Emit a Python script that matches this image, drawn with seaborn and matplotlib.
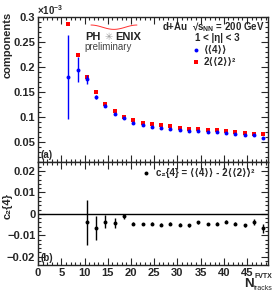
import seaborn as sns
import matplotlib.pyplot as plt
import numpy as np
import pandas as pd
from matplotlib.ticker import MultipleLocator, FuncFormatter

# N_tracks bins (centres)
ntracks = [6.5, 8.5, 10.5, 12.5, 14.5, 16.5, 18.5, 20.5, 22.5, 24.5, 26.5, 28.5,
           30.5, 32.5, 34.5, 36.5, 38.5, 40.5, 42.5, 44.5, 46.5, 48.5]
# <<4>> and 2<<2>>^2, in units of 1e-3
four = [0.181, 0.195, 0.176, 0.141, 0.123, 0.107, 0.099, 0.089, 0.085, 0.081, 0.079,
        0.077, 0.074, 0.072, 0.073, 0.070, 0.071, 0.069, 0.066, 0.064, 0.064, 0.059]
four_err = [0.084, 0.025, 0.009, 0.004, 0.003, 0.002, 0.002, 0.002, 0.002, 0.002, 0.002,
            0.002, 0.002, 0.002, 0.002, 0.002, 0.002, 0.002, 0.002, 0.002, 0.002, 0.002]
two_sq = [0.287, 0.225, 0.181, 0.151, 0.127, 0.113, 0.101, 0.095, 0.089, 0.086, 0.084,
          0.082, 0.079, 0.077, 0.076, 0.074, 0.074, 0.072, 0.070, 0.069, 0.067, 0.066]

# c2{4} starts at 10.5
c24_x = ntracks[2:]
c24 = [-0.0040, -0.0067, -0.0037, -0.0043, -0.0012, -0.0045, -0.0047, -0.0045, -0.0050,
       -0.0046, -0.0050, -0.0054, -0.0040, -0.0047, -0.0045, -0.0036, -0.0045, -0.0053,
       -0.0037, -0.0067]
c24_err = [0.0105, 0.0055, 0.0030, 0.0022, 0.0012, 0.0006, 0.0006, 0.0006, 0.0006,
           0.0006, 0.0006, 0.0006, 0.0006, 0.0006, 0.0006, 0.0006, 0.0006, 0.0006,
           0.0015, 0.0020]

top = pd.DataFrame({'n': ntracks, 'four': four, 'four_err': four_err, 'two': two_sq})
bot = pd.DataFrame({'n': c24_x, 'c24': c24, 'err': c24_err})

sns.set_style('ticks')
plt.rcParams['font.family'] = ['Liberation Sans', 'DejaVu Sans']
plt.rcParams['font.weight'] = 'bold'
plt.rcParams['mathtext.fontset'] = 'custom'
plt.rcParams['mathtext.rm'] = 'Liberation Sans:bold'
plt.rcParams['mathtext.it'] = 'Liberation Sans:bold'
plt.rcParams['mathtext.bf'] = 'Liberation Sans:bold'
fs = 8
lfs = 7
fam = ['Liberation Sans', 'DejaVu Sans']

fig = plt.figure(figsize=(2.74, 2.94), dpi=100)
ax1 = fig.add_axes([0.139, 0.449, 0.839, 0.493])
ax2 = fig.add_axes([0.139, 0.099, 0.839, 0.350])

# top panel
sns.scatterplot(data=top, x='n', y='two', ax=ax1, color='#ff0000', marker='s', s=10,
                linewidth=0, zorder=3)
ax1.errorbar(top['n'], top['four'], yerr=top['four_err'], fmt='none', ecolor='#0000ff',
             elinewidth=1.0, zorder=4)
sns.scatterplot(data=top, x='n', y='four', ax=ax1, color='#0000ff', marker='o', s=8,
                linewidth=0, zorder=5)
ax1.set_xlim(0, 49.5)
ax1.set_ylim(0.01, 0.3)
ax1.set_xlabel('')
ax1.set_ylabel('components', fontsize=fs, fontweight='bold')
ax1.yaxis.set_label_coords(-0.11, 0.81)
ax1.set_yticks([0.05, 0.1, 0.15, 0.2, 0.25, 0.3])
ax1.yaxis.set_minor_locator(MultipleLocator(0.01))
ax1.yaxis.set_major_formatter(FuncFormatter(lambda v, p: f"{v:g}"))
ax1.xaxis.set_major_locator(MultipleLocator(5))
ax1.xaxis.set_minor_locator(MultipleLocator(1))
ax1.tick_params(labelbottom=False)
ax1.text(-0.005, 1.0, r'$\times10^{-3}$', transform=ax1.transAxes, fontsize=7,
         ha='left', va='bottom', fontweight='normal')
ax1.text(0.01, 0.03, '(a)', transform=ax1.transAxes, fontsize=lfs)

# legend text top
ax1.text(0.985, 0.93, 'd+Au  \u221as$_{NN}$ = 200 GeV', transform=ax1.transAxes,
         fontsize=lfs, ha='right', va='center')
ax1.text(0.78, 0.855, '1 < |\u03b7| < 3', transform=ax1.transAxes, fontsize=lfs,
         ha='center', va='center', family=fam)
ax1.scatter([0.685], [0.775], transform=ax1.transAxes, color='#0000ff', s=8, marker='o',
            linewidth=0)
ax1.text(0.72, 0.775, '\u27e8\u27e84\u27e9\u27e9', transform=ax1.transAxes,
         fontsize=lfs, ha='left', va='center', family=fam)
ax1.scatter([0.685], [0.69], transform=ax1.transAxes, color='#ff0000', s=10, marker='s',
            linewidth=0)
ax1.text(0.72, 0.69, '2\u27e8\u27e82\u27e9\u27e9\u00b2', transform=ax1.transAxes,
         fontsize=lfs, ha='left', va='center', family=fam)

# PHENIX preliminary
ax1.text(0.205, 0.865, 'PH', transform=ax1.transAxes, fontsize=fs, ha='left', va='center',
         color='#222222')
ax1.text(0.305, 0.865, '\u2733', transform=ax1.transAxes, fontsize=7, ha='center',
         va='center', color='#999999', family=['DejaVu Sans'])
ax1.text(0.335, 0.865, 'ENIX', transform=ax1.transAxes, fontsize=fs, ha='left',
         va='center', color='#222222')
ax1.text(0.2, 0.79, 'preliminary', transform=ax1.transAxes, fontsize=lfs,
         ha='left', va='center', color='#444444', fontweight='normal')
arc_x = np.linspace(0.23, 0.43, 30)
arc_y = 0.945 - 0.03 * np.sin((arc_x - 0.23) / 0.20 * np.pi) ** 2
ax1.plot(arc_x, arc_y, transform=ax1.transAxes, color='#ff3030', lw=0.7)

# bottom panel
ax2.axhline(0, color='black', lw=1.0, zorder=1)
ax2.errorbar(bot['n'], bot['c24'], yerr=bot['err'], fmt='none', ecolor='black',
             elinewidth=1.0, zorder=3)
sns.scatterplot(data=bot, x='n', y='c24', ax=ax2, color='black', marker='o', s=8,
                linewidth=0, zorder=4)
ax2.set_xlim(0, 49.5)
ax2.set_ylim(-0.0238, 0.0242)
ax2.set_xlabel('')
ax2.set_ylabel('c\u2082{4}', fontsize=fs, fontweight='bold', family=fam)
ax2.yaxis.set_label_coords(-0.11, 0.57)
ax2.set_yticks([-0.02, -0.01, 0, 0.01, 0.02])
ax2.yaxis.set_minor_locator(MultipleLocator(0.002))
ax2.yaxis.set_major_formatter(FuncFormatter(lambda v, p: f"{v:g}".replace('-', '\u2212')))
ax2.xaxis.set_major_locator(MultipleLocator(5))
ax2.xaxis.set_minor_locator(MultipleLocator(1))
ax2.text(0.01, 0.035, '(b)', transform=ax2.transAxes, fontsize=lfs)
ax2.scatter([0.47], [0.89], transform=ax2.transAxes, color='black', s=8, marker='o',
            linewidth=0)
ax2.text(0.515, 0.89, 'c\u2082{4} = \u27e8\u27e84\u27e9\u27e9 - 2\u27e8\u27e82\u27e9\u27e9\u00b2',
         transform=ax2.transAxes, fontsize=lfs, ha='left', va='center', family=fam)

# x axis title, ROOT style at the bottom right
fig.text(0.925, 0.012, 'N', fontsize=9.5, ha='right', va='bottom')
fig.text(0.928, 0.048, 'FVTX', fontsize=5, ha='left', va='bottom')
fig.text(0.926, 0.008, 'tracks', fontsize=5, ha='left', va='bottom', fontweight='normal')

for ax in (ax1, ax2):
    for sp in ax.spines.values():
        sp.set_visible(True)
        sp.set_linewidth(1.0)
    ax.tick_params(which='both', direction='in', top=True, right=True, labelsize=fs,
                   width=0.8)
    ax.tick_params(which='major', length=5)
    ax.tick_params(which='minor', length=2.5)
    for lab in ax.get_xticklabels() + ax.get_yticklabels():
        lab.set_fontweight('bold')
    ax.tick_params(axis='y', pad=2)
    ax.tick_params(axis='x', pad=2)

fig.savefig('out.png', dpi=100)
